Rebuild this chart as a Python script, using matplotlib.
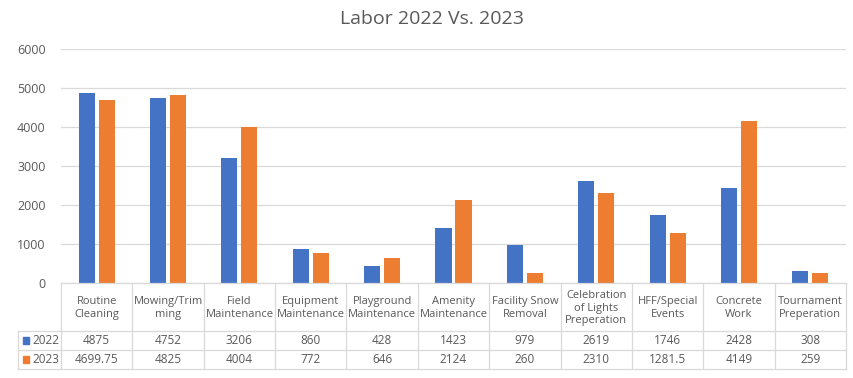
import matplotlib
matplotlib.use('Agg')
import matplotlib.pyplot as plt
import numpy as np

plt.rcParams['font.family'] = ['Open Sans', 'DejaVu Sans']

categories = ['Routine\nCleaning', 'Mowing/Trim\nming', 'Field\nMaintenance',
              'Equipment\nMaintenance', 'Playground\nMaintenance', 'Amenity\nMaintenance',
              'Facility Snow\nRemoval', 'Celebration\nof Lights\nPreperation',
              'HFF/Special\nEvents', 'Concrete\nWork', 'Tournament\nPreperation']
labor_2022 = [4875, 4752, 3206, 860, 428, 1423, 979, 2619, 1746, 2428, 308]
labor_2023 = [4699.75, 4825, 4004, 772, 646, 2124, 260, 2310, 1281.5, 4149, 259]
series_names = ['2022', '2023']
yticks = [0, 1000, 2000, 3000, 4000, 5000, 6000]

blue = '#4472C4'
orange = '#ED7D31'
grid_c = '#D9D9D9'
text_c = '#595959'

W, H = 854, 378
fig = plt.figure(figsize=(W / 100, H / 100), dpi=100)

# pixel layout
px_left, px_right = 61, 846
px_top, px_zero = 49, 283
px_table_bottom = 369
px_header_bottom = 331
px_key_left = 18

ax = fig.add_axes([px_left / W, 1 - px_zero / H, (px_right - px_left) / W,
                   (px_zero - px_top) / H])
n = len(categories)
x = np.arange(n) + 0.5
bw = 0.225
ax.bar(x - 0.14, labor_2022, bw, color=blue)
ax.bar(x + 0.14, labor_2023, bw, color=orange)
ax.set_xlim(0, n)
ax.set_ylim(0, 6000)
ax.set_yticks(yticks)
ax.set_yticklabels([str(t) for t in yticks], fontsize=9, color=text_c)
ax.tick_params(axis='y', length=0, pad=11)
ax.set_xticks([])
ax.yaxis.grid(True, color=grid_c, linewidth=0.9)
ax.set_axisbelow(True)
for s in ax.spines.values():
    s.set_visible(False)

fig.text(432 / W, 1 - 19 / H, 'Labor 2022 Vs. 2023', ha='center', va='center',
         fontsize=14, color=text_c)

# data table
tax = fig.add_axes([px_key_left / W, 1 - px_table_bottom / H,
                    (px_right - px_key_left) / W, (px_table_bottom - px_zero) / H])
tax.set_xlim(px_key_left, px_right)
tax.set_ylim(px_table_bottom, px_zero)
tax.axis('off')
cw = (px_right - px_left) / n
row_h = (px_table_bottom - px_header_bottom) / 2
lw = 0.9
tax.plot([px_left, px_right], [px_zero, px_zero], color=grid_c, lw=lw, clip_on=False)
for i in range(n + 1):
    xx = px_left + i * cw
    tax.plot([xx, xx], [px_zero, px_table_bottom], color=grid_c, lw=lw, clip_on=False)
tax.plot([px_key_left, px_key_left], [px_header_bottom, px_table_bottom], color=grid_c, lw=lw, clip_on=False)
for yy in [px_header_bottom, px_header_bottom + row_h, px_table_bottom]:
    tax.plot([px_key_left, px_right], [yy, yy], color=grid_c, lw=lw, clip_on=False)

for i, c in enumerate(categories):
    tax.text(px_left + (i + 0.5) * cw, (px_zero + px_header_bottom) / 2 + 1, c,
             ha='center', va='center', fontsize=8, color=text_c, linespacing=1.2)

for r, (name, vals, col) in enumerate(zip(series_names, [labor_2022, labor_2023], [blue, orange])):
    yy = px_header_bottom + (r + 0.5) * row_h
    tax.add_patch(plt.Rectangle((px_key_left + 5, yy - 3.5), 6.5, 6.5, color=col, clip_on=False))
    tax.text(px_key_left + 14, yy, name, ha='left', va='center', fontsize=8.5, color=text_c)
    for i, v in enumerate(vals):
        tax.text(px_left + (i + 0.5) * cw, yy, '{:g}'.format(v), ha='center', va='center',
                 fontsize=8.5, color=text_c)

fig.savefig('out.png', dpi=100)
